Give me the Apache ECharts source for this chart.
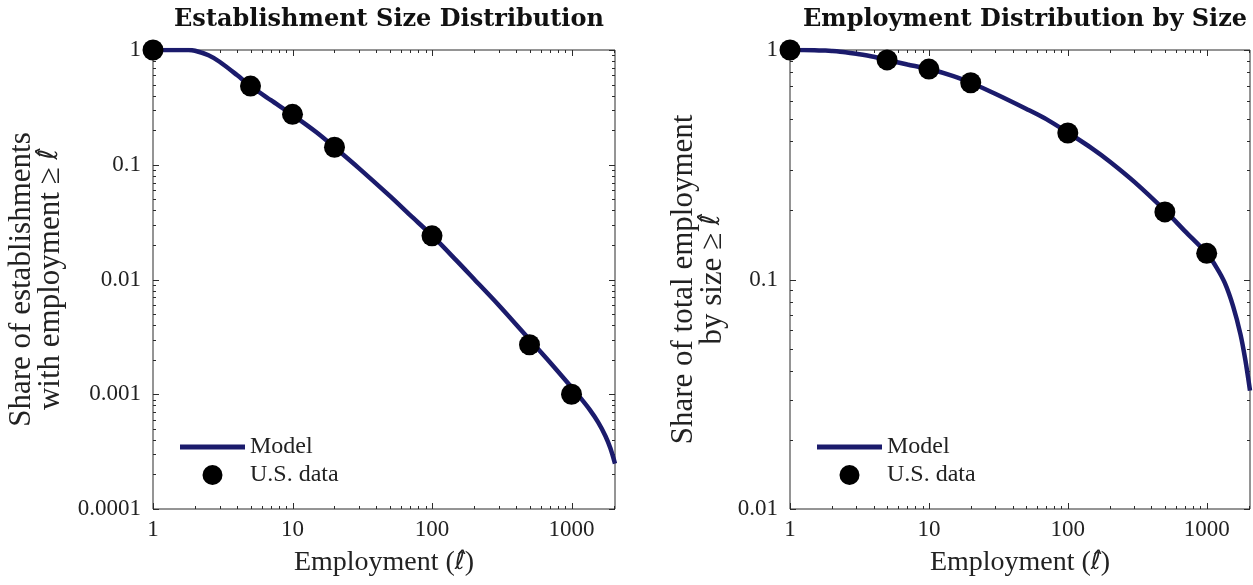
<!DOCTYPE html>
<html>
<head>
<meta charset="utf-8">
<title>Establishment and Employment Size Distributions</title>
<script src="https://cdn.jsdelivr.net/npm/echarts@6/dist/echarts.min.js"></script>
<style>
  html, body { margin: 0; padding: 0; background: #fff; }
  #chart { width: 1253px; height: 585px; }
</style>
</head>
<body>
<div id="chart"></div>
<script>
// Establishment size bins (employment threshold) with U.S. data
const sizes = [1, 5, 10, 20, 100, 500, 1000];
const estShareData = [1, 0.485, 0.275, 0.142, 0.024, 0.0027, 0.001];
const empShareData = [1, 0.905, 0.826, 0.72, 0.435, 0.197, 0.13];

// Model-implied counter-CDFs
const modelSizes = [1, 1.5, 1.8, 2, 2.5, 3, 4, 5, 7, 10, 15, 20, 30, 50, 70, 100, 150, 200, 300, 500, 700, 1000, 1175, 1350, 1550, 1750, 1900, 2050];
const modelEst = [1, 1, 1, 0.985, 0.9, 0.79, 0.605, 0.485, 0.365, 0.272, 0.19, 0.142, 0.093, 0.0532, 0.0362, 0.0242, 0.0146, 0.0101, 0.006, 0.003, 0.0019, 0.00115, 0.00091, 0.000734, 0.000572, 0.000433, 0.000338, 0.000249];
const modelEmp = [1, 0.998, 0.994, 0.99, 0.978, 0.963, 0.935, 0.905, 0.865, 0.826, 0.77, 0.72, 0.645, 0.555, 0.5, 0.437, 0.372, 0.327, 0.267, 0.2, 0.162, 0.13, 0.113, 0.0966, 0.0764, 0.0578, 0.0444, 0.0328];

// Tick values and labels
const xTicks = [1, 10, 100, 1000];
const xTickLabels = ['1', '10', '100', '1000'];
const xMinor = [2, 3, 4, 5, 6, 7, 8, 9, 20, 30, 40, 50, 60, 70, 80, 90, 200, 300, 400, 500, 600, 700, 800, 900, 2000];
const yTicksLeft = [0.0001, 0.001, 0.01, 0.1, 1];
const yTickLabelsLeft = ['0.0001', '0.001', '0.01', '0.1', '1'];
const yTicksRight = [0.01, 0.1, 1];
const yTickLabelsRight = ['0.01', '0.1', '1'];
const decadeMinor = [2, 3, 4, 5, 6, 7, 8, 9];
const yMinorLeft = [0.0001, 0.001, 0.01, 0.1].flatMap(d => decadeMinor.map(m => m * d));
const yMinorRight = [0.01, 0.1].flatMap(d => decadeMinor.map(m => m * d));

const X_MIN = 1, X_MAX = 2050;
const NAVY = '#1b1b6c';
const AXIS = '#2b2b2b';
const SERIF = '"Liberation Serif", "DejaVu Serif", serif';
// the hatted ell is set in a face whose accent anchors sit over the glyph
const ELL = { fontFamily: '"DejaVu Sans", sans-serif', fontStyle: 'italic' };

function labelFor(ticks, labels) {
  return function (v) {
    const i = ticks.findIndex(t => Math.abs(Math.log10(v) - Math.log10(t)) < 1e-6);
    return i >= 0 ? labels[i] : '';
  };
}

// tick marks drawn inside the box on all four sides
function tickData(xMaj, xMin, yMaj, yMin, yRef) {
  const d = [];
  xMaj.forEach(v => d.push([v, yRef, 1, 0]));
  xMin.forEach(v => d.push([v, yRef, 0, 0]));
  yMaj.forEach(v => d.push([X_MIN, v, 1, 1]));
  yMin.forEach(v => d.push([X_MIN, v, 0, 1]));
  return d;
}
function renderTick(params, api) {
  const cs = params.coordSys;
  const len = api.value(2) ? 6 : 3;
  const p = api.coord([api.value(0), api.value(1)]);
  const style = { stroke: AXIS, lineWidth: 1 };
  if (api.value(3) === 0) {
    const x = Math.round(p[0]) + 0.5;
    const yb = cs.y + cs.height, yt = cs.y;
    return { type: 'group', children: [
      { type: 'line', shape: { x1: x, y1: yb, x2: x, y2: yb - len }, style },
      { type: 'line', shape: { x1: x, y1: yt, x2: x, y2: yt + len }, style }
    ]};
  }
  const y = Math.round(p[1]) + 0.5;
  const xl = cs.x, xr = cs.x + cs.width;
  return { type: 'group', children: [
    { type: 'line', shape: { x1: xl, y1: y, x2: xl + len, y2: y }, style },
    { type: 'line', shape: { x1: xr, y1: y, x2: xr - len, y2: y }, style }
  ]};
}

const labelText = { fontFamily: SERIF, fontSize: 23, color: '#222' };

function xAxisFor(gridIndex) {
  return {
    type: 'log', logBase: 10, gridIndex, min: X_MIN, max: X_MAX,
    splitLine: { show: false }, axisTick: { show: false },
    axisLine: { show: false },
    axisLabel: { ...labelText, margin: 9, showMaxLabel: false, formatter: labelFor(xTicks, xTickLabels) },
    name: 'Employment ({l|ℓ̂})', nameLocation: 'middle', nameGap: 40,
    nameTextStyle: { fontFamily: SERIF, fontSize: 28, color: '#222', rich: { l: { ...ELL, fontSize: 24 } } }
  };
}
function yAxisFor(gridIndex, min, ticks, labels, name, gap) {
  return {
    type: 'log', logBase: 10, gridIndex, min, max: 1,
    splitLine: { show: false }, axisTick: { show: false },
    axisLine: { show: false },
    axisLabel: { ...labelText, margin: 12, formatter: labelFor(ticks, labels) },
    name, nameLocation: 'middle', nameRotate: 90, nameGap: gap,
    nameTextStyle: { fontFamily: SERIF, fontSize: 31, color: '#222', lineHeight: 29,
      rich: { l: { ...ELL, fontSize: 26, lineHeight: 29 } } }
  };
}

const legendText = { fontFamily: SERIF, fontSize: 24, color: '#222' };
const legendData = [
  { name: 'Model', icon: 'path://M0,0 L65,0 L65,5 L0,5 Z' },
  { name: 'U.S. data', icon: 'circle' }
];

const chart = echarts.init(document.getElementById('chart'), null, { renderer: 'canvas' });
chart.setOption({
  animation: false,
  backgroundColor: '#ffffff',
  title: [
    { text: 'Establishment Size Distribution', left: 384, top: 3, textAlign: 'center',
      textStyle: { fontFamily: '"DejaVu Serif", serif', fontWeight: 'bold', fontSize: 24, color: '#111' } },
    { text: 'Employment Distribution by Size', left: 1020, top: 3, textAlign: 'center',
      textStyle: { fontFamily: '"DejaVu Serif", serif', fontWeight: 'bold', fontSize: 24, color: '#111' } }
  ],
  grid: [
    { left: 153, top: 50, width: 462, height: 459, show: true, borderColor: AXIS, borderWidth: 1, backgroundColor: 'transparent' },
    { left: 790, top: 50, width: 460, height: 459, show: true, borderColor: AXIS, borderWidth: 1, backgroundColor: 'transparent' }
  ],
  xAxis: [xAxisFor(0), xAxisFor(1)],
  yAxis: [
    yAxisFor(0, 0.0001, yTicksLeft, yTickLabelsLeft, 'Share of establishments\nwith employment ≥ {l|ℓ̂}', 88),
    yAxisFor(1, 0.01, yTicksRight, yTickLabelsRight, 'Share of total employment\nby size ≥ {l|ℓ̂}', 63)
  ],
  legend: [
    { left: 180, top: 435, orient: 'vertical', padding: 0, itemWidth: 65, itemHeight: 20, itemGap: 4,
      selectedMode: false, data: legendData, textStyle: legendText },
    { left: 817, top: 435, orient: 'vertical', padding: 0, itemWidth: 65, itemHeight: 20, itemGap: 4,
      selectedMode: false, data: legendData, textStyle: legendText }
  ],
  series: [
    { type: 'custom', name: 'ticksL', xAxisIndex: 0, yAxisIndex: 0, silent: true, clip: false, z: 1,
      renderItem: renderTick, data: tickData(xTicks, xMinor, yTicksLeft, yMinorLeft, 1) },
    { type: 'custom', name: 'ticksR', xAxisIndex: 1, yAxisIndex: 1, silent: true, clip: false, z: 1,
      renderItem: renderTick, data: tickData(xTicks, xMinor, yTicksRight, yMinorRight, 1) },
    { type: 'line', name: 'Model', xAxisIndex: 0, yAxisIndex: 0, symbol: 'none', smooth: 0.3,
      lineStyle: { color: NAVY, width: 4.5 }, itemStyle: { color: NAVY }, z: 2,
      data: modelSizes.map((x, i) => [x, modelEst[i]]) },
    { type: 'scatter', name: 'U.S. data', xAxisIndex: 0, yAxisIndex: 0, symbol: 'circle', symbolSize: 21,
      itemStyle: { color: '#000', opacity: 1 }, z: 3,
      data: sizes.map((x, i) => [x, estShareData[i]]) },
    { type: 'line', name: 'Model', xAxisIndex: 1, yAxisIndex: 1, symbol: 'none', smooth: 0.3,
      lineStyle: { color: NAVY, width: 4.5 }, itemStyle: { color: NAVY }, z: 2,
      data: modelSizes.map((x, i) => [x, modelEmp[i]]) },
    { type: 'scatter', name: 'U.S. data', xAxisIndex: 1, yAxisIndex: 1, symbol: 'circle', symbolSize: 21,
      itemStyle: { color: '#000', opacity: 1 }, z: 3,
      data: sizes.map((x, i) => [x, empShareData[i]]) }
  ]
});
</script>
</body>
</html>
